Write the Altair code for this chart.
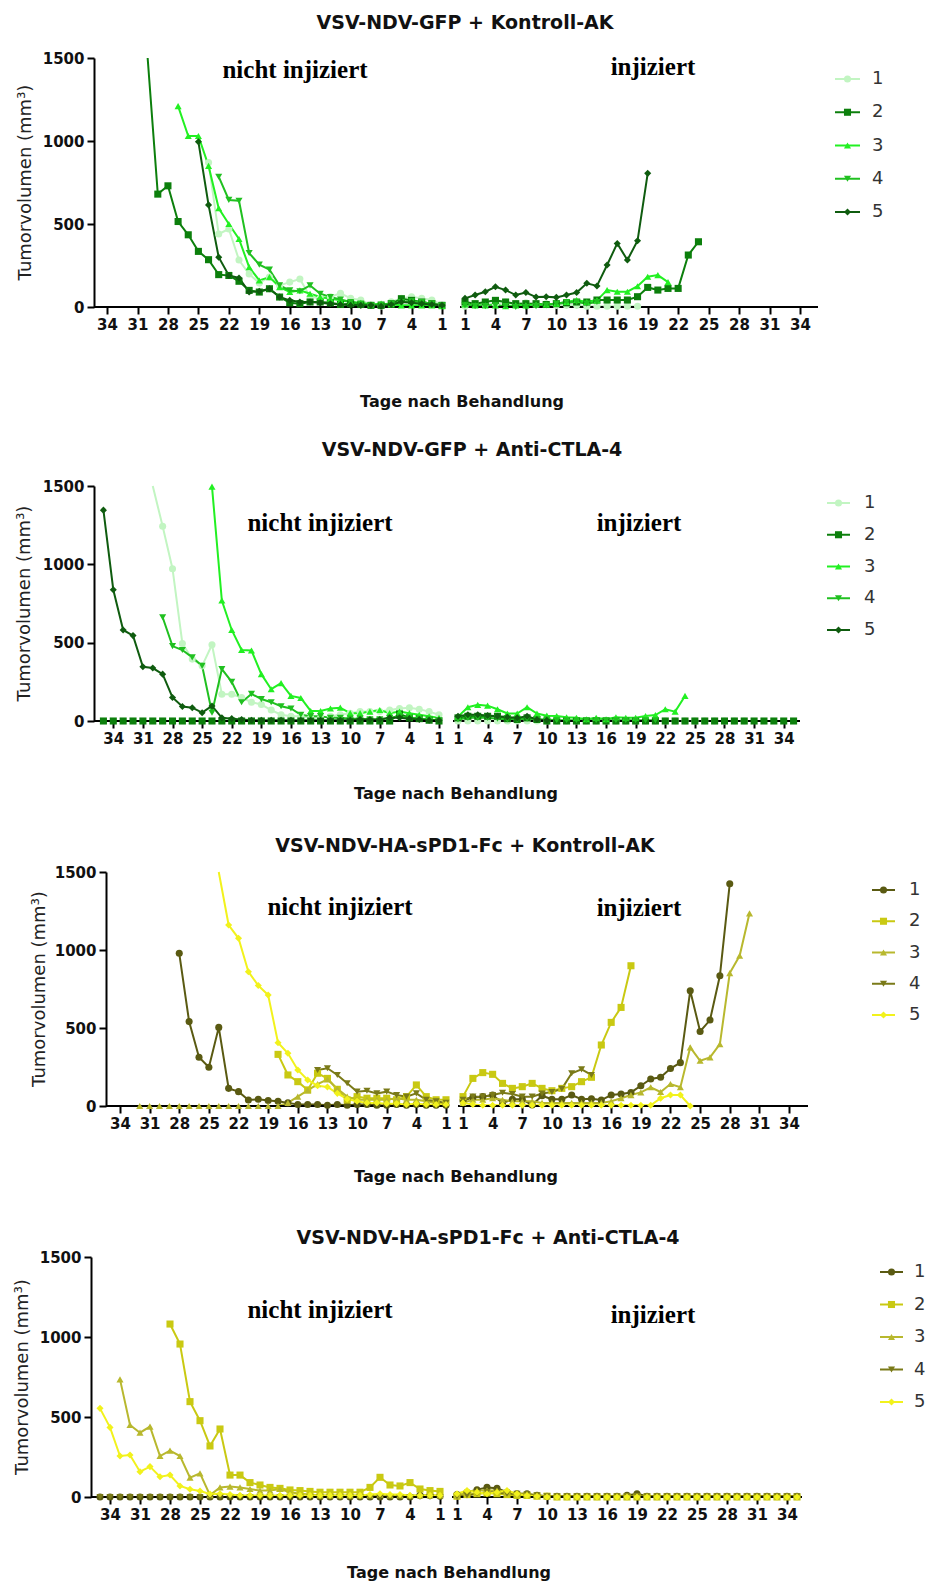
import altair as alt
import pandas as pd

# ---------------- data ----------------
SERIES = ["1", "2", "3", "4", "5"]
SHAPES = ["circle", "square", "triangle-up", "triangle-down", "diamond"]
GREENS = ["#c2f5c2", "#0c7f0c", "#22f022", "#20c020", "#0f5c0f"]
YELLOWS = ["#5a5a12", "#c9c912", "#b8b82e", "#7a7a18", "#f2f21c"]

TITLES = [
    "VSV-NDV-GFP + Kontroll-AK",
    "VSV-NDV-GFP + Anti-CTLA-4",
    "VSV-NDV-HA-sPD1-Fc + Kontroll-AK",
    "VSV-NDV-HA-sPD1-Fc + Anti-CTLA-4",
]
X_TITLE = "Tage nach Behandlung"
Y_TITLE = "Tumorvolumen (mm³)"
LEFT_LABEL = "nicht injiziert"
RIGHT_LABEL = "injiziert"
Y_TICKS = [0, 500, 1000, 1500]
X_TICK_DAYS = [1, 4, 7, 10, 13, 16, 19, 22, 25, 28, 31, 34]

# "nicht injiziert": each list runs from its first day down to day 1
# "injiziert": each list runs from day 1 upwards
P1_LEFT = [
    [870, 440, 470, 283, 199, 144, 181, 130, 150, 169, 62, 52, 62, 82, 52, 42, 12, 5, 32, 52, 62, 52, 42, 12],
    [1900, 680, 730, 515, 435, 335, 285, 195, 190, 155, 100, 90, 110, 60, 25, 20, 30, 30, 25, 15, 20, 15, 10, 10, 20, 50, 40, 30, 20, 10],
    [1210, 1030, 1030, 850, 595, 500, 410, 240, 160, 180, 120, 90, 100, 80, 60, 50, 40, 30, 25, 15, 20, 15, 10, 10, 10, 10, 5],
    [785, 645, 640, 325, 255, 225, 130, 100, 95, 130, 80, 60, 45, 30, 20, 10, 15, 20, 30, 35, 30, 20, 10],
    [995, 615, 300, 190, 175, 90, 95, 110, 60, 40, 30, 30, 25, 20, 15, 10, 10, 10, 5, 15, 30, 25, 20, 15, 10],
]
P1_RIGHT = [
    [5, 20, 15, 20, 30, 20, 25, 15, 20, 10, 10, 10, 5, 5, 5, 5, 5, 5],
    [30, 20, 30, 40, 30, 20, 20, 20, 15, 20, 25, 30, 30, 42, 42, 42, 42, 62, 118, 102, 112, 112, 313, 393],
    [15, 10, 10, 10, 5, 10, 10, 15, 15, 20, 30, 42, 30, 40, 102, 92, 92, 125, 182, 192, 150],
    [10, 5, 5, 10, 5, 0, 0, 5, 10, 20, 30, 30, 20, 30],
    [52, 72, 92, 122, 102, 72, 87, 60, 62, 58, 72, 87, 143, 127, 253, 383, 283, 399, 805],
]
P2_LEFT = [
    [1900, 1243, 972, 495, 395, 352, 487, 171, 171, 150, 120, 105, 70, 40, 30, 30, 20, 20, 30, 40, 50, 60, 60, 60, 70, 80, 85, 75, 60, 40],
    [0, 0, 0, 0, 0, 0, 0, 0, 0, 0, 0, 0, 0, 0, 0, 0, 0, 0, 0, 0, 0, 0, 0, 0, 0, 0, 0, 0, 0, 0, 45, 20, 15, 5, 0],
    [1496, 769, 581, 453, 450, 299, 203, 242, 160, 147, 64, 64, 80, 85, 50, 50, 60, 70, 50, 60, 50, 40, 30, 20],
    [662, 478, 453, 406, 352, 53, 331, 250, 120, 173, 140, 120, 94, 80, 40, 30, 30, 20, 20, 15, 15, 10, 10, 20, 30, 20, 15, 10, 5],
    [1346, 838, 581, 545, 346, 338, 299, 150, 92, 85, 53, 96, 20, 15, 10, 5, 5, 5, 5, 5, 5, 5, 5, 5, 5, 5, 10, 10, 10, 20, 20, 15, 10, 5, 5],
]
P2_RIGHT = [
    [0, 0, 0, 0, 0, 0, 0, 0, 0, 0, 0, 0, 0, 0, 0, 0, 0, 0, 0, 0, 0, 0, 0, 0, 0, 0, 0, 0, 0, 0],
    [20, 30, 30, 30, 30, 15, 10, 20, 10, 0, 0, 0, 0, 0, 0, 0, 0, 0, 0, 0, 0, 0, 0, 0, 0, 0, 0, 0, 0, 0, 0, 0, 0, 0, 0],
    [28, 88, 103, 98, 75, 48, 48, 88, 48, 34, 32, 24, 21, 11, 21, 11, 24, 21, 21, 32, 38, 75, 60, 160],
    [10, 20, 20, 20, 15, 10, 10, 15, 10, 10, 5, 5, 5, 5, 5, 5, 5, 5, 5, 5, 5],
    [30, 40, 40, 35, 30, 25, 20, 30, 10, 5],
]
P3_LEFT = [
    [979, 541, 312, 248, 504, 113, 92, 38, 43, 35, 30, 20, 10, 10, 10, 5, 10, 5, 10, 10, 5, 5, 10, 5, 10, 5, 5, 5],
    [331, 199, 156, 103, 210, 177, 107, 38, 60, 50, 50, 50, 40, 60, 135, 60, 40, 40],
    [0, 0, 0, 0, 0, 0, 0, 0, 0, 0, 0, 0, 0, 0, 0, 20, 60, 100, 140, 170, 110, 60, 40, 40, 40, 40, 50, 40, 40, 30, 20, 20],
    [231, 242, 199, 146, 92, 98, 81, 92, 70, 60, 81, 40, 30, 20],
    [1800, 1160, 1075, 861, 772, 712, 406, 338, 231, 167, 130, 122, 81, 45, 30, 20, 20, 15, 15, 10, 15, 10, 10, 10],
]
P3_RIGHT = [
    [34, 56, 60, 70, 19, 43, 43, 6, 66, 43, 43, 70, 43, 47, 38, 70, 77, 87, 130, 173, 184, 240, 278, 739, 478, 551, 835, 1425],
    [60, 177, 214, 203, 145, 113, 124, 145, 113, 98, 113, 124, 156, 184, 391, 536, 632, 899],
    [20, 40, 40, 50, 40, 30, 30, 30, 20, 20, 20, 20, 20, 20, 20, 30, 50, 70, 87, 120, 90, 141, 120, 376, 290, 312, 397, 852, 963, 1235],
    [40, 60, 60, 70, 85, 77, 60, 60, 80, 90, 110, 210, 235, 199],
    [20, 10, 5, 5, 5, 5, 5, 5, 5, 5, 5, 5, 5, 5, 5, 5, 5, 5, 5, 5, 50, 70, 70, 0],
]
P4_LEFT = [
    [0, 0, 0, 0, 0, 0, 0, 0, 0, 0, 0, 0, 0, 0, 0, 0, 0, 0, 0, 0, 0, 0, 0, 0, 0, 0, 0, 0, 0, 0, 0, 0, 10, 10, 5],
    [1081, 956, 596, 477, 319, 425, 137, 137, 90, 75, 60, 54, 44, 40, 35, 30, 30, 30, 30, 30, 60, 123, 75, 69, 90, 50, 40, 35],
    [735, 450, 402, 440, 256, 290, 256, 121, 148, 12, 60, 65, 60, 50, 40, 40, 50, 30, 20, 15, 10, 10, 10, 10, 10, 10, 15, 10, 10, 10, 10, 10, 10],
    [0, 0, 0, 0, 0, 0, 0, 0, 0, 0, 0, 0, 0, 0, 0, 0, 0, 0, 0, 0, 0, 0, 0, 0, 0, 0, 0, 0, 0, 0, 0, 0, 0, 0, 0],
    [554, 435, 256, 262, 158, 190, 127, 137, 69, 48, 38, 19, 20, 15, 10, 10, 10, 10, 10, 10, 10, 10, 10, 10, 10, 10, 10, 15, 20, 15, 15, 10, 10, 10, 10],
]
P4_RIGHT = [
    [15, 30, 45, 60, 55, 30, 20, 20, 10, 5, 5, 5, 5, 5, 5, 5, 5, 10, 20, 5, 5, 5, 5, 5, 5, 5, 5, 5, 5, 5, 5, 5, 5, 5, 5],
    [5, 15, 20, 25, 20, 15, 10, 10, 5, 5, 0, 0, 0, 0, 0, 0, 0, 0, 0, 0, 0, 0, 0, 0, 0, 0, 0, 0, 0, 0, 0, 0, 0, 0, 0],
    [10, 30, 40, 40, 40, 30, 20, 20, 10, 5, 5, 5, 5, 5, 5, 5, 5, 5, 5, 5, 5, 5, 5, 5, 5, 5, 5, 5, 5, 5, 5, 5, 5, 5, 5],
    [5, 10, 20, 30, 30, 20, 20, 15, 10, 5, 5, 5, 5, 5, 5, 5, 5, 5, 5, 5, 5, 5, 5, 5, 5, 5, 5, 5, 5, 5, 5, 5, 5, 5, 5],
    [20, 40, 30, 20, 30, 40, 20, 10, 5, 0, 0, 0, 0, 0, 0, 0, 0, 0, 0, 0, 0, 0, 0, 0, 0, 0, 0, 0, 0, 0, 0, 0, 0, 0, 0],
]

PANELS = [(P1_LEFT, P1_RIGHT), (P2_LEFT, P2_RIGHT), (P3_LEFT, P3_RIGHT), (P4_LEFT, P4_RIGHT)]
PALETTES = [GREENS, GREENS, YELLOWS, YELLOWS]

# ---------------- layout (page pixels; the chart origin sits at page 8,8) ----------------
W_ALL, H_ALL, ORIGIN = 920, 1576, 8
LAYOUT = [
    dict(axis_x=94, top=58, bottom=307, left1=442, right1=465, ppd=10.15, right_end=818,
         title=(465, 22.5), xtitle=(462, 402), ytitle_x=26, nicht=(295, 70), inj=(653, 67),
         leg_line=(835, 860), leg_text=872, leg_rows=(79, 212)),
    dict(axis_x=94, top=486, bottom=721, left1=439, right1=458, ppd=9.87, right_end=800,
         title=(472, 450), xtitle=(456, 794), ytitle_x=25, nicht=(320, 523), inj=(639, 523),
         leg_line=(827, 850), leg_text=864, leg_rows=(503, 630)),
    dict(axis_x=106, top=872, bottom=1106, left1=446, right1=463, ppd=9.88, right_end=808,
         title=(465, 846), xtitle=(456, 1177), ytitle_x=40, nicht=(340, 907), inj=(639, 908),
         leg_line=(872, 895), leg_text=909, leg_rows=(890, 1015)),
    dict(axis_x=91, top=1257, bottom=1497, left1=440, right1=457, ppd=10.0, right_end=802,
         title=(488, 1238), xtitle=(449, 1573), ytitle_x=23, nicht=(320, 1310), inj=(653, 1315),
         leg_line=(880, 903), leg_text=914, leg_rows=(1272, 1402)),
]

SANS = "DejaVu Sans"
SERIF = "Liberation Serif"


def P(v):
    return v - ORIGIN


def txt(text, x, y, **kw):
    return alt.Chart(pd.DataFrame({"t": [text]})).mark_text(**kw).encode(
        x=alt.value(P(x)), y=alt.value(P(y)), text="t:N"
    )


def make_panel(k):
    lay = LAYOUT[k]
    ax, top, bot = lay["axis_x"], lay["top"], lay["bottom"]
    ppd, l1, r1, re_ = lay["ppd"], lay["left1"], lay["right1"], lay["right_end"]
    g = (r1 - l1) / ppd
    dmin = -1 - (l1 - ax) / ppd
    dmax = -1 + g + (re_ - r1) / ppd

    left_lists, right_lists = PANELS[k]
    recs = []
    for s in range(5):
        lv = left_lists[s]
        n = len(lv)
        for i, v in enumerate(lv):
            d = n - i
            recs.append(dict(series=SERIES[s], side="L", day=d, value=v, pos=-d))
        for i, v in enumerate(right_lists[s]):
            d = i + 1
            recs.append(dict(series=SERIES[s], side="R", day=d, value=v, pos=d - 2 + g))
    df = pd.DataFrame(recs)

    xs = alt.Scale(domain=[dmin, dmax], range=[P(ax), P(re_)], nice=False, zero=False)
    ys = alt.Scale(domain=[0, 1500], range=[P(bot), P(top)], nice=False, clamp=True)
    cs = alt.Scale(domain=SERIES, range=PALETTES[k])
    ss = alt.Scale(domain=SERIES, range=SHAPES)

    tick_vals = [-d for d in X_TICK_DAYS[::-1]] + [d - 2 + g for d in X_TICK_DAYS]
    xaxis = alt.Axis(
        orient="bottom", offset=P(bot) - H_ALL,
        values=tick_vals,
        labelExpr=f"datum.value < 0 ? -datum.value : round(datum.value + {2 - g:.6f})",
        domain=False, grid=False, ticks=True, tickSize=7, tickWidth=2, tickColor="black",
        labelFont=SANS, labelFontWeight="bold", labelFontSize=15, labelColor="#111",
        labelPadding=3, labelOverlap=False, labelFlush=False, title=None,
    )
    yaxis = alt.Axis(
        orient="left", offset=-P(ax),
        values=Y_TICKS, format="d", domain=True, domainColor="black", domainWidth=2, grid=False,
        tickSize=7, tickWidth=2, tickColor="black",
        labelFont=SANS, labelFontWeight="bold", labelFontSize=15, labelColor="#111",
        labelPadding=3, labelOverlap=False, title=None,
    )
    X = alt.X("pos:Q", scale=xs, axis=xaxis)
    Y = alt.Y("value:Q", scale=ys, axis=yaxis)
    C = alt.Color("series:N", scale=cs, legend=None)
    S = alt.Shape("series:N", scale=ss, legend=None)

    base = alt.Chart(df)
    lines = base.mark_line(strokeWidth=2).encode(x=X, y=Y, color=C, detail="side:N")
    points = base.transform_filter(alt.datum.value <= 1500).mark_point(
        filled=True, size=50, opacity=1).encode(x=X, y=Y, color=C, shape=S)

    ax_df = pd.DataFrame({"x0": [dmin, -1 + g - 5 / ppd], "x1": [-1, dmax]})
    axis_lines = alt.Chart(ax_df).mark_rule(color="black", strokeWidth=2).encode(
        x=alt.X("x0:Q", scale=xs, axis=xaxis), x2="x1:Q", y=alt.value(P(bot))
    )
    main = alt.layer(lines, axis_lines, points)

    leg = alt.Chart(pd.DataFrame({"series": SERIES}))
    LY = alt.Y("series:N", axis=None,
               scale=alt.Scale(type="point", domain=SERIES, padding=0,
                               range=[P(lay["leg_rows"][0]), P(lay["leg_rows"][1])]))
    lx0, lx1 = lay["leg_line"]
    leg_rule = leg.mark_rule(strokeWidth=2).encode(x=alt.value(P(lx0)), x2=alt.value(P(lx1)), y=LY, color=C)
    leg_pt = leg.mark_point(filled=True, size=50, opacity=1).encode(
        x=alt.value(P((lx0 + lx1) / 2)), y=LY, color=C, shape=S)
    leg_txt = leg.mark_text(align="left", baseline="middle", font=SANS, fontSize=18, color="#333").encode(
        x=alt.value(P(lay["leg_text"])), y=LY, text="series:N")
    legend = alt.layer(leg_rule, leg_pt, leg_txt)

    texts = alt.layer(
        txt(TITLES[k], lay["title"][0], lay["title"][1], font=SANS, fontSize=19,
            fontWeight="bold", align="center", baseline="middle", color="#111"),
        txt(X_TITLE, lay["xtitle"][0], lay["xtitle"][1], font=SANS, fontSize=16,
            fontWeight="bold", align="center", baseline="middle", color="#111"),
        txt(Y_TITLE, lay["ytitle_x"], (top + bot) / 2, font=SANS, fontSize=18, angle=270,
            align="center", baseline="middle", color="#222"),
        txt(LEFT_LABEL, lay["nicht"][0], lay["nicht"][1], font=SERIF, fontSize=25,
            fontWeight="bold", align="center", baseline="middle", color="black"),
        txt(RIGHT_LABEL, lay["inj"][0], lay["inj"][1], font=SERIF, fontSize=25,
            fontWeight="bold", align="center", baseline="middle", color="black"),
    )

    return alt.layer(main, legend, texts).resolve_scale(y="independent")


chart = alt.layer(*[make_panel(k) for k in range(4)]).resolve_scale(
    x="independent", y="independent", color="independent", shape="independent"
).properties(
    width=W_ALL, height=H_ALL, padding=0, autosize=alt.AutoSizeParams(type="none")
).configure_view(stroke=None)

chart.save("out.html", embed_options={"renderer": "svg", "actions": False})
